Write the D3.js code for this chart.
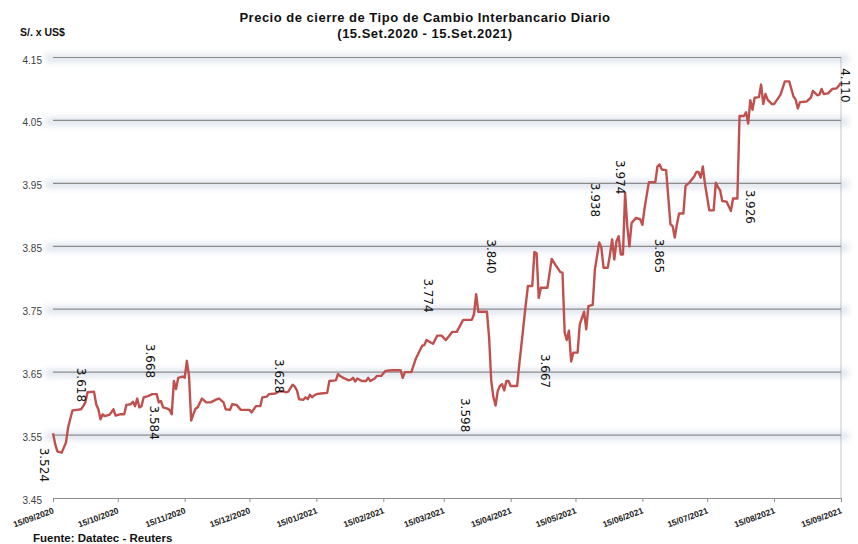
<!DOCTYPE html>
<html>
<head>
<meta charset="utf-8">
<script src="https://cdn.jsdelivr.net/npm/d3@7"></script>
<style>
  body { margin: 0; background: #fff; }
  svg { display: block; }
</style>
</head>
<body>
<svg id="chart" width="858" height="544"></svg>
<script>
// fechas y valores (S/. por US$)
const fechas = [
  "2020-09-15","2020-09-16","2020-09-17","2020-09-19","2020-09-21","2020-09-22","2020-09-24","2020-09-26","2020-09-28","2020-09-29",
  "2020-09-30","2020-10-01","2020-10-04","2020-10-05","2020-10-06","2020-10-07","2020-10-08","2020-10-09","2020-10-11","2020-10-12",
  "2020-10-13","2020-10-14","2020-10-16","2020-10-18","2020-10-19","2020-10-21","2020-10-22","2020-10-23","2020-10-24","2020-10-25",
  "2020-10-26","2020-10-27","2020-10-29","2020-10-31","2020-11-02","2020-11-03","2020-11-04","2020-11-05","2020-11-07","2020-11-08",
  "2020-11-09","2020-11-10","2020-11-11","2020-11-12","2020-11-14","2020-11-15","2020-11-16","2020-11-17","2020-11-18","2020-11-19",
  "2020-11-20","2020-11-21","2020-11-23","2020-11-25","2020-11-27","2020-11-30","2020-12-01","2020-12-03","2020-12-04","2020-12-06",
  "2020-12-07","2020-12-09","2020-12-11","2020-12-15","2020-12-16","2020-12-18","2020-12-20","2020-12-21","2020-12-23","2020-12-24",
  "2020-12-27","2020-12-29","2020-12-31","2021-01-01","2021-01-02","2021-01-04","2021-01-05","2021-01-06","2021-01-07","2021-01-09",
  "2021-01-10","2021-01-11","2021-01-12","2021-01-13","2021-01-14","2021-01-15","2021-01-17","2021-01-20","2021-01-21","2021-01-24",
  "2021-01-25","2021-01-26","2021-01-28","2021-01-30","2021-01-31","2021-02-01","2021-02-02","2021-02-03","2021-02-05","2021-02-07",
  "2021-02-08","2021-02-09","2021-02-11","2021-02-12","2021-02-14","2021-02-16","2021-02-19","2021-02-23","2021-02-24","2021-02-25",
  "2021-02-28","2021-03-02","2021-03-05","2021-03-06","2021-03-07","2021-03-09","2021-03-10","2021-03-12","2021-03-14","2021-03-16",
  "2021-03-19","2021-03-21","2021-03-24","2021-03-28","2021-03-29","2021-03-30","2021-03-31","2021-04-04","2021-04-05","2021-04-06",
  "2021-04-07","2021-04-08","2021-04-09","2021-04-10","2021-04-11","2021-04-12","2021-04-13","2021-04-14","2021-04-15","2021-04-18",
  "2021-04-19","2021-04-20","2021-04-22","2021-04-23","2021-04-25","2021-04-26","2021-04-27","2021-04-28","2021-04-29","2021-05-02",
  "2021-05-04","2021-05-06","2021-05-08","2021-05-09","2021-05-10","2021-05-11","2021-05-12","2021-05-13","2021-05-14","2021-05-16",
  "2021-05-17","2021-05-19","2021-05-20","2021-05-21","2021-05-23","2021-05-24","2021-05-26","2021-05-27","2021-05-28","2021-05-30",
  "2021-05-31","2021-06-01","2021-06-02","2021-06-03","2021-06-04","2021-06-05","2021-06-06","2021-06-07","2021-06-08","2021-06-09",
  "2021-06-10","2021-06-12","2021-06-14","2021-06-15","2021-06-16","2021-06-18","2021-06-21","2021-06-22","2021-06-23","2021-06-24",
  "2021-06-26","2021-06-28","2021-06-29","2021-06-30","2021-07-01","2021-07-02","2021-07-04","2021-07-05","2021-07-07","2021-07-09",
  "2021-07-10","2021-07-11","2021-07-12","2021-07-13","2021-07-14","2021-07-16","2021-07-18","2021-07-19","2021-07-20","2021-07-21",
  "2021-07-22","2021-07-24","2021-07-26","2021-07-27","2021-07-29","2021-07-30","2021-08-01","2021-08-02","2021-08-03","2021-08-04",
  "2021-08-05","2021-08-06","2021-08-08","2021-08-09","2021-08-10","2021-08-11","2021-08-12","2021-08-14","2021-08-15","2021-08-18",
  "2021-08-20","2021-08-22","2021-08-24","2021-08-25","2021-08-26","2021-08-27","2021-08-30","2021-09-01","2021-09-02","2021-09-04",
  "2021-09-05","2021-09-06","2021-09-07","2021-09-09","2021-09-11","2021-09-13","2021-09-14","2021-09-15"
];
const tipoCambio = [
  3.553,3.536,3.524,3.522,3.538,3.562,3.589,3.590,3.591,3.596,
  3.602,3.618,3.619,3.599,3.591,3.575,3.583,3.580,3.582,3.586,
  3.591,3.581,3.583,3.583,3.598,3.599,3.603,3.596,3.608,3.594,
  3.596,3.610,3.612,3.615,3.615,3.602,3.604,3.594,3.592,3.590,
  3.583,3.636,3.623,3.641,3.643,3.641,3.668,3.644,3.573,3.583,
  3.592,3.594,3.608,3.602,3.602,3.607,3.608,3.602,3.591,3.590,
  3.599,3.598,3.590,3.590,3.586,3.596,3.596,3.610,3.611,3.615,
  3.616,3.620,3.619,3.618,3.619,3.630,3.627,3.621,3.607,3.606,
  3.610,3.607,3.614,3.610,3.613,3.615,3.616,3.617,3.636,3.637,
  3.647,3.644,3.640,3.637,3.638,3.641,3.635,3.640,3.636,3.636,
  3.641,3.636,3.640,3.644,3.644,3.652,3.653,3.653,3.641,3.650,
  3.650,3.671,3.692,3.693,3.701,3.697,3.695,3.708,3.708,3.701,
  3.714,3.714,3.733,3.733,3.742,3.774,3.746,3.746,3.705,3.636,
  3.610,3.597,3.620,3.628,3.631,3.621,3.636,3.636,3.628,3.628,
  3.663,3.694,3.758,3.787,3.787,3.841,3.839,3.768,3.784,3.784,
  3.830,3.819,3.809,3.808,3.713,3.701,3.716,3.667,3.681,3.681,
  3.726,3.746,3.718,3.755,3.757,3.813,3.856,3.848,3.816,3.816,
  3.837,3.861,3.829,3.858,3.866,3.837,3.837,3.935,3.882,3.850,
  3.887,3.895,3.893,3.884,3.910,3.952,3.952,3.977,3.980,3.972,
  3.971,3.885,3.882,3.864,3.885,3.902,3.902,3.946,3.952,3.961,
  3.968,3.968,3.959,3.977,3.949,3.907,3.907,3.951,3.944,3.939,
  3.922,3.921,3.906,3.926,3.926,4.057,4.057,4.063,4.045,4.082,
  4.067,4.086,4.087,4.107,4.076,4.092,4.083,4.076,4.076,4.091,
  4.112,4.112,4.088,4.083,4.069,4.079,4.080,4.086,4.097,4.090,
  4.091,4.100,4.092,4.093,4.100,4.101,4.105,4.110
];

// etiquetas de valores puntuales (texto vertical)
const etiquetas = ["3.524","3.618","3.668","3.584","3.628","3.774","3.598","3.840","3.667","3.938","3.974","3.865","3.926","4.110"];
const etiquetaFechas = ["2020-09-09","2020-09-26","2020-10-28","2020-10-30","2020-12-27","2021-03-06","2021-03-23","2021-04-04","2021-04-29","2021-05-22","2021-06-03","2021-06-21","2021-08-02","2021-09-15"];
const etiquetaNiveles = [3.530,3.657,3.695,3.597,3.671,3.799,3.609,3.861,3.679,3.951,3.987,3.862,3.940,4.133];

const yTicks = [3.45,3.55,3.65,3.75,3.85,3.95,4.05,4.15];
const xTicks = ["2020-09-15","2020-10-15","2020-11-15","2020-12-15","2021-01-15","2021-02-15","2021-03-15",
                "2021-04-15","2021-05-15","2021-06-15","2021-07-15","2021-08-15","2021-09-15"];

const parse = d3.timeParse("%Y-%m-%d");
const data = fechas.map((f, i) => ({ date: parse(f), value: tipoCambio[i] }));

const svg = d3.select("#chart");
const plotLeft = 53, plotRight = 841, plotTop = 57.5, plotBottom = 498;

const x = d3.scaleTime().domain([parse("2020-09-15"), parse("2021-09-15")]).range([plotLeft, plotRight]);
const y = d3.scaleLinear().domain([3.45, 4.15]).range([plotBottom, plotTop]);

// sombra suave de las lineas de grilla
const defs = svg.append("defs");
defs.append("filter").attr("id", "glow")
  .attr("x", "-5%").attr("y", "-200%").attr("width", "110%").attr("height", "500%")
  .append("feGaussianBlur").attr("stdDeviation", 3);

const grid = yTicks.filter(v => v > 3.45);
svg.append("g").selectAll("rect")
  .data(grid)
  .enter().append("rect")
  .attr("x", plotLeft - 8)
  .attr("y", d => y(d) - 3)
  .attr("width", plotRight - plotLeft + 16)
  .attr("height", 8)
  .attr("fill", "#dfe5ef")
  .attr("filter", "url(#glow)");

svg.append("g").selectAll("line")
  .data(grid)
  .enter().append("line")
  .attr("x1", plotLeft).attr("x2", plotRight)
  .attr("y1", d => y(d)).attr("y2", d => y(d))
  .attr("stroke", "#8c8c8c")
  .attr("stroke-width", 1.2);

// linea punteada a la derecha
svg.append("line")
  .attr("x1", plotRight).attr("x2", plotRight)
  .attr("y1", plotTop).attr("y2", plotBottom)
  .attr("stroke", "#909090")
  .attr("stroke-width", 1)
  .attr("stroke-dasharray", "1,1");

// eje X
const xAxis = svg.append("g")
  .attr("transform", `translate(0,${plotBottom})`)
  .call(d3.axisBottom(x)
    .tickValues(xTicks.map(parse))
    .tickSize(4)
    .tickSizeOuter(0)
    .tickFormat(d3.timeFormat("%d/%m/%Y")));
xAxis.select(".domain").attr("stroke", "#8c8c8c").attr("stroke-width", 1.2);
xAxis.selectAll(".tick line").attr("stroke", "#8c8c8c");
xAxis.selectAll("text")
  .attr("font-family", "Liberation Sans, Arial, sans-serif")
  .attr("font-size", 8.5)
  .attr("font-weight", "bold")
  .attr("fill", "#222")
  .style("text-anchor", "end")
  .attr("x", 0).attr("y", 0).attr("dy", 0)
  .attr("transform", "translate(1,15) rotate(-20)");

// eje Y
const yAxis = svg.append("g")
  .attr("transform", `translate(${plotLeft - 11},0)`)
  .call(d3.axisLeft(y).tickValues(yTicks).tickSize(0).tickFormat(d3.format(".2f")));
yAxis.select(".domain").remove();
yAxis.selectAll("text")
  .attr("font-family", "Liberation Sans, Arial, sans-serif")
  .attr("font-size", 10)
  .attr("fill", "#404040")
  .attr("x", 0)
  .attr("dy", "0.55em");

// serie
const line = d3.line().x(d => x(d.date)).y(d => y(d.value));
svg.append("path")
  .datum(data)
  .attr("d", line)
  .attr("fill", "none")
  .attr("stroke", "#c0504d")
  .attr("stroke-width", 2.4)
  .attr("stroke-linejoin", "round");

// etiquetas verticales
svg.append("g").selectAll("text")
  .data(etiquetas)
  .enter().append("text")
  .attr("transform", (d, i) => `translate(${x(parse(etiquetaFechas[i]))},${y(etiquetaNiveles[i])}) rotate(90)`)
  .attr("font-family", "DejaVu Sans, sans-serif")
  .attr("font-size", 12)
  .attr("fill", "#111")
  .text(d => d);

// titulos
const title = svg.append("text")
  .attr("x", 425).attr("y", 22)
  .attr("text-anchor", "middle")
  .attr("font-family", "Liberation Sans, Arial, sans-serif")
  .attr("font-weight", "bold")
  .attr("font-size", 13)
  .attr("letter-spacing", 0.5)
  .attr("fill", "#111");
title.append("tspan").attr("x", 425).text("Precio de cierre de Tipo de Cambio Interbancario Diario");
title.append("tspan").attr("x", 425).attr("dy", 16).text("(15.Set.2020 - 15.Set.2021)");

svg.append("text")
  .attr("x", 20).attr("y", 36)
  .attr("font-family", "Liberation Sans, Arial, sans-serif")
  .attr("font-weight", "bold")
  .attr("font-size", 10.5)
  .attr("fill", "#111")
  .text("S/. x US$");

svg.append("text")
  .attr("x", 33).attr("y", 542)
  .attr("font-family", "Liberation Sans, Arial, sans-serif")
  .attr("font-weight", "bold")
  .attr("font-size", 11.5)
  .attr("fill", "#111")
  .text("Fuente: Datatec - Reuters");
</script>
</body>
</html>
